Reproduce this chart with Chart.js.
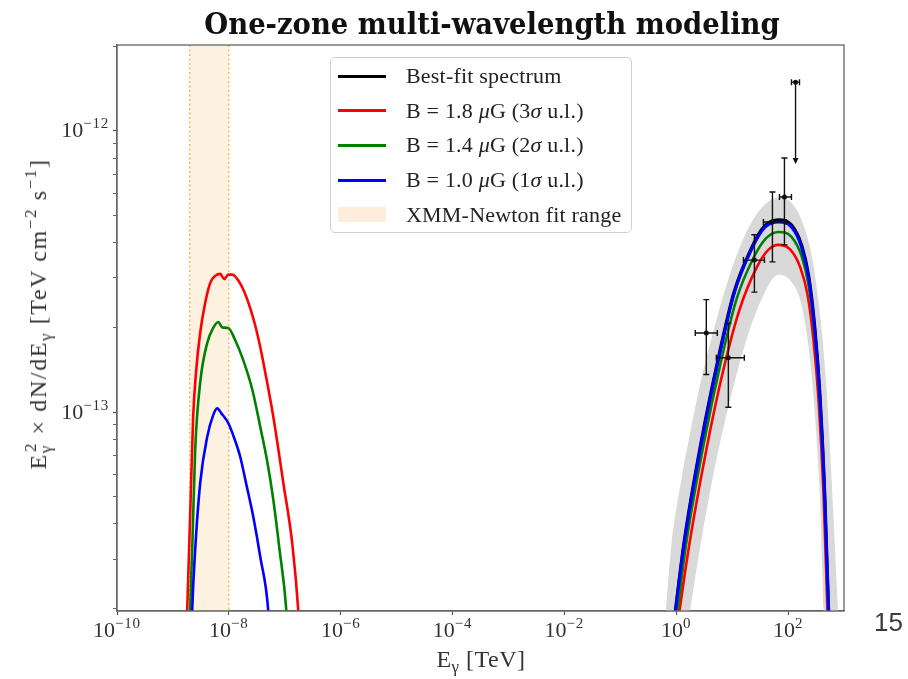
<!DOCTYPE html>
<html>
<head>
<meta charset="utf-8">
<title>One-zone multi-wavelength modeling</title>
<script src="https://cdn.jsdelivr.net/npm/chart.js@4.4.1/dist/chart.umd.min.js"></script>
<style>
  body { margin: 0; background: #fff; }
  #wrap { position: relative; width: 908px; height: 679px; overflow: hidden; }
  #chart { display: block; }
  #title {
    position: absolute; left: 492px; top: 5px; transform: translateX(-50%);
    white-space: nowrap; font: bold 30.5px "DejaVu Serif"; font-stretch: condensed; color: #111;
  }
  #legend {
    position: absolute; left: 330px; top: 57px; width: 302px; height: 176px;
    border: 1px solid #cfcfcf; border-radius: 5px; background: rgba(255,255,255,0.9);
    font: 22px "Liberation Serif"; letter-spacing: 0.2px; color: #222; box-sizing: border-box; padding-top: 1px;
  }
  .row { height: 34.6px; display: flex; align-items: center; white-space: nowrap; }
  .sw { margin-left: 7px; width: 48px; height: 3px; margin-right: 20px; }
  .patch { margin-left: 7px; width: 48px; height: 15px; margin-right: 20px; background: #fdeedb; }
  #page { position: absolute; left: 874px; top: 607px; font: 26px "Liberation Sans"; color: #3a3a3a; }
  .tl { position: absolute; font: 22px/22px "Liberation Serif"; color: #333; white-space: nowrap; }
  .tl sup { font-size: 15px; letter-spacing: 0.8px; position: relative; top: -9px; vertical-align: baseline; line-height: 0; }
  .axt { position: absolute; white-space: nowrap; font: 24px/24px "Liberation Serif"; color: #333; }
  .axt sub, .axt sup { font-size: 17px; position: relative; vertical-align: baseline; line-height: 0; }
  .axt sub { top: 5px; }
  .axt sup { top: -10px; }
</style>
</head>
<body>
<div id="wrap">
  <canvas id="chart" width="908" height="679"></canvas>
  <div id="title">One-zone multi-wavelength modeling</div>
  <div id="legend"></div>
  <div id="page">15</div>
  <div class="axt" id="ytitle" style="left:38px; top:314px; transform: translate(-50%,-50%) rotate(-90deg); letter-spacing: 1.6px;">E<sub>γ</sub><sup style="margin-left:-8px">2</sup> × dN/dE<sub>γ</sub> [TeV cm<sup>−2</sup> s<sup>−1</sup>]</div>
  <div class="axt" id="xtitle" style="left:481px; top:647px; transform: translateX(-50%); letter-spacing: 0.5px;">E<sub>γ</sub> [TeV]</div>
</div>
<script>
// axis setup
const xTicks = [1e-10, 1e-8, 1e-6, 1e-4, 1e-2, 1, 1e2];
const xTickLabels = ["10<sup>−10</sup>", "10<sup>−8</sup>", "10<sup>−6</sup>", "10<sup>−4</sup>", "10<sup>−2</sup>", "10<sup>0</sup>", "10<sup>2</sup>"];
const yMajor = [1e-13, 1e-12];
const yMajorLabels = ["10<sup>−13</sup>", "10<sup>−12</sup>"];
const yMinor = [2e-14, 3e-14, 4e-14, 5e-14, 6e-14, 7e-14, 8e-14, 9e-14,
                2e-13, 3e-13, 4e-13, 5e-13, 6e-13, 7e-13, 8e-13, 9e-13, 2e-12];

// XMM-Newton fit range [TeV]
const xmmRange = [2e-9, 1e-8];

// synchrotron part of the models (E in TeV, F in TeV cm^-2 s^-1)
const redSyncE = [1.73e-9, 1.80e-9, 2.03e-9, 2.30e-9, 2.61e-9, 3.07e-9, 3.77e-9, 4.65e-9, 5.70e-9, 7.01e-9, 8.28e-9, 9.76e-9, 1.15e-8, 1.60e-8, 2.14e-8, 2.85e-8, 3.65e-8, 4.68e-8, 6.25e-8, 9.44e-8, 1.37e-7, 1.75e-7, 1.91e-7];
const redSyncF = [1.42e-14, 1.97e-14, 4.23e-14, 9.6e-14, 1.41e-13, 1.91e-13, 2.44e-13, 2.88e-13, 3.05e-13, 3.10e-13, 2.97e-13, 3.08e-13, 3.08e-13, 2.86e-13, 2.51e-13, 2.09e-13, 1.70e-13, 1.32e-13, 9.6e-14, 5.58e-14, 3.37e-14, 1.95e-14, 1.42e-14];
const greenSyncE = [1.95e-9, 2.03e-9, 2.21e-9, 2.50e-9, 3.07e-9, 4.10e-9, 5.25e-9, 6.46e-9, 7.62e-9, 9.76e-9, 1.30e-8, 1.81e-8, 2.63e-8, 3.65e-8, 4.88e-8, 6.25e-8, 8.00e-8, 1.07e-7, 1.16e-7];
const greenSyncF = [1.42e-14, 1.97e-14, 3.23e-14, 7.33e-14, 1.27e-13, 1.76e-13, 1.99e-13, 2.09e-13, 2.00e-13, 1.99e-13, 1.80e-13, 1.53e-13, 1.20e-13, 8.85e-14, 6.64e-14, 4.86e-14, 3.28e-14, 1.95e-14, 1.42e-14];
const blueSyncE = [2.12e-9, 2.21e-9, 2.50e-9, 3.07e-9, 4.10e-9, 5.25e-9, 6.19e-9, 7.31e-9, 9.76e-9, 1.25e-8, 1.60e-8, 2.05e-8, 2.74e-8, 3.65e-8, 5.08e-8, 5.52e-8];
const blueSyncF = [1.42e-14, 1.97e-14, 3.23e-14, 5.58e-14, 8.15e-14, 9.75e-14, 1.03e-13, 9.91e-14, 9.14e-14, 8.07e-14, 6.92e-14, 5.54e-14, 4.23e-14, 3.05e-14, 1.95e-14, 1.42e-14];

// inverse-Compton part of the models
const redIcE = [0.906, 1.13, 1.71, 3.45, 6.95, 13.5, 27.1, 44.6, 67.3, 110, 167, 223, 285, 351, 431, 508, 541];
const redIcF = [1.42e-14, 1.93e-14, 3.37e-14, 7.33e-14, 1.41e-13, 2.31e-13, 3.25e-13, 3.78e-13, 3.93e-13, 3.78e-13, 3.25e-13, 2.61e-13, 1.80e-13, 1.10e-13, 5.07e-14, 1.93e-14, 1.42e-14];
const greenIcE = [0.834, 1.04, 1.51, 3.05, 6.15, 11.9, 24.0, 41.0, 67.3, 115, 174, 232, 297, 365, 449, 530, 552];
const greenIcF = [1.42e-14, 1.93e-14, 3.42e-14, 7.57e-14, 1.48e-13, 2.51e-13, 3.53e-13, 4.16e-13, 4.37e-13, 4.20e-13, 3.59e-13, 2.83e-13, 1.91e-13, 1.13e-13, 5.11e-14, 1.93e-14, 1.42e-14];
const blueIcE = [0.80, 0.96, 1.39, 2.81, 5.66, 10.9, 22.1, 37.8, 67.3, 115, 174, 232, 297, 366, 449, 530, 552];
const blueIcF = [1.42e-14, 1.93e-14, 3.42e-14, 7.76e-14, 1.53e-13, 2.65e-13, 3.78e-13, 4.52e-13, 4.74e-13, 4.55e-13, 3.86e-13, 3.02e-13, 2.00e-13, 1.17e-13, 5.15e-14, 1.93e-14, 1.42e-14];
const bestE = [0.80, 0.96, 1.39, 2.81, 5.66, 10.9, 22.1, 37.8, 67.3, 115, 174, 232, 297, 366, 449, 530, 552];
const bestF = [1.42e-14, 1.93e-14, 3.45e-14, 7.85e-14, 1.55e-13, 2.68e-13, 3.82e-13, 4.58e-13, 4.82e-13, 4.62e-13, 3.92e-13, 3.06e-13, 2.03e-13, 1.19e-13, 5.2e-14, 1.93e-14, 1.42e-14];

// confidence band around the best fit
const bandE = [0.585, 0.814, 1.23, 1.86, 2.81, 5.21, 9.68, 17.9, 33.4, 67.3, 115, 174, 263, 365, 488, 600, 834];
const bandHi = [1.5e-14, 3.31e-14, 5.73e-14, 8.85e-14, 1.31e-13, 2.12e-13, 3.20e-13, 4.37e-13, 5.32e-13, 5.78e-13, 5.55e-13, 4.82e-13, 3.62e-13, 2.31e-13, 1.20e-13, 5.73e-14, 1.5e-14];
const bandLo = [1.2e-14, 1.2e-14, 1.2e-14, 2.1e-14, 3.50e-14, 6.75e-14, 1.15e-13, 1.80e-13, 2.51e-13, 3.08e-13, 2.90e-13, 2.40e-13, 1.36e-13, 5.41e-14, 1.2e-14, 1.2e-14, 1.2e-14];

// gamma-ray flux points with errors
const ptE = [3.45, 8.55, 25.0, 52.5, 86.1];
const ptElo = [2.19, 5.21, 15.9, 36.2, 70.2];
const ptEhi = [5.43, 16.5, 37.8, 93.6, 115];
const ptF = [1.91e-13, 1.56e-13, 3.47e-13, 4.74e-13, 5.82e-13];
const ptFlo = [1.36e-13, 1.04e-13, 2.67e-13, 3.42e-13, 3.93e-13];
const ptFhi = [2.51e-13, 2.07e-13, 4.27e-13, 6.06e-13, 8.01e-13];

// upper limit
const ulE = [136];
const ulElo = [115];
const ulEhi = [160];
const ulF = [1.49e-12];
const ulArrowTo = [7.69e-13];

function pts(xs, ys) {
  return xs.map((x, i) => ({ x: x, y: ys[i] }));
}

function curve(label, xs, ys, color, width, order) {
  return {
    label: label, data: pts(xs, ys), borderColor: color, borderWidth: width,
    pointRadius: 0, fill: false, cubicInterpolationMode: "monotone", clip: 0, order: order
  };
}

const legendItems = [
  { color: "#000", text: "Best-fit spectrum" },
  { color: "#ff0000", text: "B = 1.8 <i>\u03BC</i>G (3<i>\u03C3</i> u.l.)" },
  { color: "#008000", text: "B = 1.4 <i>\u03BC</i>G (2<i>\u03C3</i> u.l.)" },
  { color: "#0000ff", text: "B = 1.0 <i>\u03BC</i>G (1<i>\u03C3</i> u.l.)" },
  { color: null, text: "XMM-Newton fit range" }
];

const legendBox = document.getElementById("legend");
legendItems.forEach(item => {
  const row = document.createElement("div");
  row.className = "row";
  const sw = document.createElement("span");
  if (item.color) {
    sw.className = "sw";
    sw.style.background = item.color;
  } else {
    sw.className = "patch";
  }
  const t = document.createElement("span");
  t.innerHTML = item.text;
  row.appendChild(sw);
  row.appendChild(t);
  legendBox.appendChild(row);
});

// XMM shaded range, frame, error bars
const extras = {
  id: "extras",
  beforeDatasetsDraw(chart) {
    const { ctx, chartArea: a, scales: { x } } = chart;
    const x0 = x.getPixelForValue(xmmRange[0]);
    const x1 = x.getPixelForValue(xmmRange[1]);
    ctx.save();
    ctx.fillStyle = "rgba(252,232,204,0.6)";
    ctx.fillRect(x0, a.top, x1 - x0, a.bottom - a.top);
    ctx.strokeStyle = "#f2b24a";
    ctx.lineWidth = 1.3;
    ctx.setLineDash([2, 2.5]);
    [x0, x1].forEach(px => {
      ctx.beginPath();
      ctx.moveTo(px, a.top);
      ctx.lineTo(px, a.bottom);
      ctx.stroke();
    });
    ctx.restore();
  },
  afterDatasetsDraw(chart) {
    const { ctx, scales: { x, y } } = chart;
    ctx.save();
    ctx.strokeStyle = "#111";
    ctx.fillStyle = "#111";
    ctx.lineWidth = 1.4;
    const cap = 3;
    for (let i = 0; i < ptE.length; i++) {
      const px = x.getPixelForValue(ptE[i]);
      const py = y.getPixelForValue(ptF[i]);
      const xl = x.getPixelForValue(ptElo[i]);
      const xh = x.getPixelForValue(ptEhi[i]);
      const yl = y.getPixelForValue(ptFlo[i]);
      const yh = y.getPixelForValue(ptFhi[i]);
      ctx.beginPath();
      ctx.moveTo(xl, py); ctx.lineTo(xh, py);
      ctx.moveTo(px, yl); ctx.lineTo(px, yh);
      ctx.moveTo(xl, py - cap); ctx.lineTo(xl, py + cap);
      ctx.moveTo(xh, py - cap); ctx.lineTo(xh, py + cap);
      ctx.moveTo(px - cap, yl); ctx.lineTo(px + cap, yl);
      ctx.moveTo(px - cap, yh); ctx.lineTo(px + cap, yh);
      ctx.stroke();
    }
    for (let i = 0; i < ulE.length; i++) {
      const px = x.getPixelForValue(ulE[i]);
      const py = y.getPixelForValue(ulF[i]);
      const xl = x.getPixelForValue(ulElo[i]);
      const xh = x.getPixelForValue(ulEhi[i]);
      const tip = y.getPixelForValue(ulArrowTo[i]);
      ctx.beginPath();
      ctx.moveTo(xl, py); ctx.lineTo(xh, py);
      ctx.moveTo(xl, py - cap); ctx.lineTo(xl, py + cap);
      ctx.moveTo(xh, py - cap); ctx.lineTo(xh, py + cap);
      ctx.moveTo(px, py); ctx.lineTo(px, tip - 4);
      ctx.stroke();
      ctx.beginPath();
      ctx.moveTo(px - 3, tip - 5); ctx.lineTo(px + 3, tip - 5); ctx.lineTo(px, tip + 1);
      ctx.closePath();
      ctx.fill();
      ctx.beginPath();
      ctx.arc(px, py, 2.5, 0, Math.PI * 2);
      ctx.fill();
    }
    ctx.restore();
  },
  afterDraw(chart) {
    const { ctx, chartArea: a } = chart;
    ctx.save();
    ctx.strokeStyle = "#666";
    ctx.lineWidth = 1.3;
    ctx.strokeRect(a.left, a.top, a.right - a.left, a.bottom - a.top);
    ctx.restore();
  }
};

const chart = new Chart(document.getElementById("chart"), {
  type: "line",
  data: {
    datasets: [
      {
        label: "points", data: pts(ptE, ptF), showLine: false, pointRadius: 2.5,
        pointBackgroundColor: "#111", pointBorderWidth: 0, order: 0
      },
      curve("B = 1.0 \u03BCG (1\u03C3 u.l.)", blueIcE, blueIcF, "#0000ff", 3, 1),
      curve("B = 1.0 \u03BCG sync", blueSyncE, blueSyncF, "#0000ff", 2.6, 1),
      curve("B = 1.4 \u03BCG (2\u03C3 u.l.)", greenIcE, greenIcF, "#008000", 2.6, 2),
      curve("B = 1.4 \u03BCG sync", greenSyncE, greenSyncF, "#008000", 2.6, 2),
      curve("B = 1.8 \u03BCG (3\u03C3 u.l.)", redIcE, redIcF, "#ff0000", 2.6, 3),
      curve("B = 1.8 \u03BCG sync", redSyncE, redSyncF, "#ff0000", 2.6, 3),
      curve("Best-fit spectrum", bestE, bestF, "#000000", 3.4, 4),
      {
        label: "band hi", data: pts(bandE, bandHi), borderWidth: 0, pointRadius: 0,
        cubicInterpolationMode: "monotone", fill: false, clip: 0, order: 5
      },
      {
        label: "band lo", data: pts(bandE, bandLo), borderWidth: 0, pointRadius: 0,
        cubicInterpolationMode: "monotone", fill: 8, backgroundColor: "#d9d9d9", clip: 0, order: 6
      }
    ]
  },
  options: {
    responsive: false,
    animation: false,
    layout: { padding: { top: 45, right: 64, left: 0, bottom: 0 } },
    plugins: { legend: { display: false }, tooltip: { enabled: false } },
    scales: {
      x: {
        type: "logarithmic", min: 1e-10, max: 1e3,
        afterFit(s) { s.height = 68; },
        afterBuildTicks(s) { s.ticks = xTicks.map(v => ({ value: v })); },
        ticks: { display: false },
        grid: { drawOnChartArea: false, tickLength: 4, tickColor: "#555", tickWidth: 1.2 },
        border: { color: "#666", width: 1.3 }
      },
      y: {
        type: "logarithmic", min: 1.96e-14, max: 2.02e-12,
        afterFit(s) { s.width = 117; },
        afterBuildTicks(s) {
          s.ticks = yMinor.concat(yMajor).sort((a, b) => a - b).map(v => ({ value: v }));
        },
        ticks: { display: false },
        grid: {
          drawOnChartArea: false, tickLength: 4, tickColor: "#555",
          tickWidth: c => (c.tick && yMajor.includes(c.tick.value) ? 1.3 : 0.9)
        },
        border: { color: "#666", width: 1.3 }
      }
    }
  },
  plugins: [extras]
});

// tick labels placed with the chart's own scales
const wrap = document.getElementById("wrap");
xTicks.forEach((v, i) => {
  const d = document.createElement("div");
  d.className = "tl";
  d.innerHTML = xTickLabels[i];
  d.style.left = chart.scales.x.getPixelForValue(v) + "px";
  d.style.top = "619px";
  d.style.transform = "translateX(-50%)";
  wrap.appendChild(d);
});
yMajor.forEach((v, i) => {
  const d = document.createElement("div");
  d.className = "tl";
  d.innerHTML = yMajorLabels[i];
  d.style.right = (908 - 109) + "px";
  d.style.top = (chart.scales.y.getPixelForValue(v) - 11.5) + "px";
  wrap.appendChild(d);
});
</script>
</body>
</html>
